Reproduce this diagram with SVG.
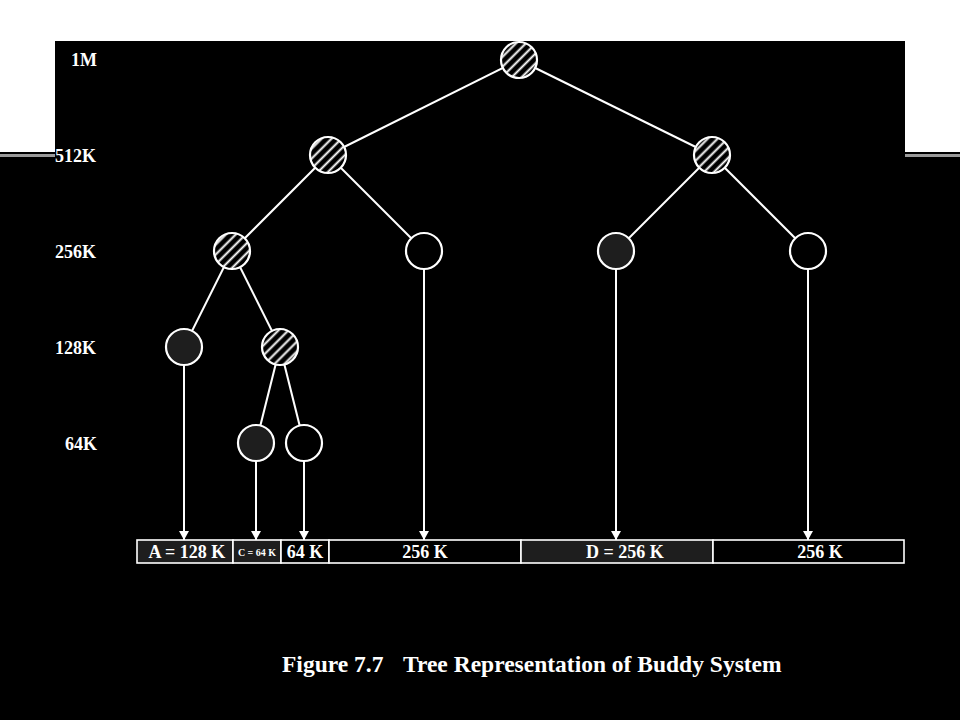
<svg xmlns="http://www.w3.org/2000/svg" width="960" height="720" viewBox="0 0 960 720">
<style>
.lbl{font-family:"Liberation Serif","Times New Roman",serif;font-weight:bold;font-size:18px;fill:#fff}
.bar{font-family:"Liberation Serif","Times New Roman",serif;font-weight:bold;font-size:18px;fill:#fff;text-anchor:middle}
.cap{font-family:"Liberation Serif","Times New Roman",serif;font-weight:bold;font-size:23.5px;fill:#fff}
.edge{stroke:#fff;stroke-width:2;fill:none}
.node circle{stroke:#fff;stroke-width:2.2}
.hatch{fill:url(#hatch)}
.alloc{fill:#1e1e1e}
.free{fill:#000}
.seg{stroke:#fff;stroke-width:1.6}
</style>
<defs>
<pattern id="hatch" patternUnits="userSpaceOnUse" width="7" height="7" patternTransform="rotate(45)">
<rect width="7" height="7" fill="#000"/>
<line x1="3.5" y1="0" x2="3.5" y2="7" stroke="#fff" stroke-width="2"/>
</pattern>
<marker id="arr" markerUnits="userSpaceOnUse" markerWidth="10" markerHeight="10" refX="9" refY="5" orient="auto" viewBox="0 0 10 10">
<path d="M0,0 L9,5 L0,10 Z" fill="#fff"/>
</marker>
</defs>
<rect width="960" height="720" fill="#000"/>
<rect x="0" y="0" width="960" height="41" fill="#fff"/>
<rect x="0" y="0" width="55" height="152" fill="#fff"/>
<rect x="905" y="0" width="55" height="152" fill="#fff"/>
<rect x="0" y="154" width="55" height="3" fill="#9a9a9a"/>
<rect x="905" y="154" width="55" height="3" fill="#9a9a9a"/>

<g id="levels">
<text class="lbl" x="97" y="66" text-anchor="end">1M</text>
<text class="lbl" x="55" y="162">512K</text>
<text class="lbl" x="55" y="258">256K</text>
<text class="lbl" x="55" y="354">128K</text>
<text class="lbl" x="97" y="450" text-anchor="end">64K</text>
</g>

<g id="connectors">
<line class="edge" x1="519" y1="60" x2="328" y2="155"/>
<line class="edge" x1="519" y1="60" x2="712" y2="155"/>
<line class="edge" x1="328" y1="155" x2="232" y2="251"/>
<line class="edge" x1="328" y1="155" x2="424" y2="251"/>
<line class="edge" x1="712" y1="155" x2="616" y2="251"/>
<line class="edge" x1="712" y1="155" x2="808" y2="251"/>
<line class="edge" x1="232" y1="251" x2="184" y2="347"/>
<line class="edge" x1="232" y1="251" x2="280" y2="347"/>
<line class="edge" x1="280" y1="347" x2="256" y2="443"/>
<line class="edge" x1="280" y1="347" x2="304" y2="443"/>
<line class="edge" x1="184" y1="366" x2="184" y2="540" marker-end="url(#arr)"/>
<line class="edge" x1="256" y1="462" x2="256" y2="540" marker-end="url(#arr)"/>
<line class="edge" x1="304" y1="462" x2="304" y2="540" marker-end="url(#arr)"/>
<line class="edge" x1="424" y1="270" x2="424" y2="540" marker-end="url(#arr)"/>
<line class="edge" x1="616" y1="270" x2="616" y2="540" marker-end="url(#arr)"/>
<line class="edge" x1="808" y1="270" x2="808" y2="540" marker-end="url(#arr)"/>
</g>

<g id="n1M" class="node"><circle class="hatch" cx="519" cy="60" r="18"/></g>
<g id="n512a" class="node"><circle class="hatch" cx="328" cy="155" r="18"/></g>
<g id="n512b" class="node"><circle class="hatch" cx="712" cy="155" r="18"/></g>
<g id="n256a" class="node"><circle class="hatch" cx="232" cy="251" r="18"/></g>
<g id="n256b" class="node"><circle class="free" cx="424" cy="251" r="18"/></g>
<g id="n256c" class="node"><circle class="alloc" cx="616" cy="251" r="18"/></g>
<g id="n256d" class="node"><circle class="free" cx="808" cy="251" r="18"/></g>
<g id="n128a" class="node"><circle class="alloc" cx="184" cy="347" r="18"/></g>
<g id="n128b" class="node"><circle class="hatch" cx="280" cy="347" r="18"/></g>
<g id="n64a" class="node"><circle class="alloc" cx="256" cy="443" r="18"/></g>
<g id="n64b" class="node"><circle class="free" cx="304" cy="443" r="18"/></g>

<g id="memory">
<rect class="seg" x="137" y="540" width="96" height="23" fill="#1e1e1e"/>
<rect class="seg" x="233" y="540" width="48" height="23" fill="#1e1e1e"/>
<rect class="seg" x="281" y="540" width="48" height="23" fill="#000"/>
<rect class="seg" x="329" y="540" width="192" height="23" fill="#000"/>
<rect class="seg" x="521" y="540" width="192" height="23" fill="#1e1e1e"/>
<rect class="seg" x="713" y="540" width="191" height="23" fill="#000"/>
<text class="bar" x="187" y="558">A = 128 K</text>
<text class="bar" x="257" y="556" style="font-size:10px">C = 64 K</text>
<text class="bar" x="305" y="558">64 K</text>
<text class="bar" x="425" y="558">256 K</text>
<text class="bar" x="625" y="558">D = 256 K</text>
<text class="bar" x="820" y="558">256 K</text>
</g>

<g id="caption">
<text class="cap" x="282" y="672">Figure 7.7</text>
<text class="cap" x="403" y="672">Tree Representation of Buddy System</text>
</g>
</svg>
